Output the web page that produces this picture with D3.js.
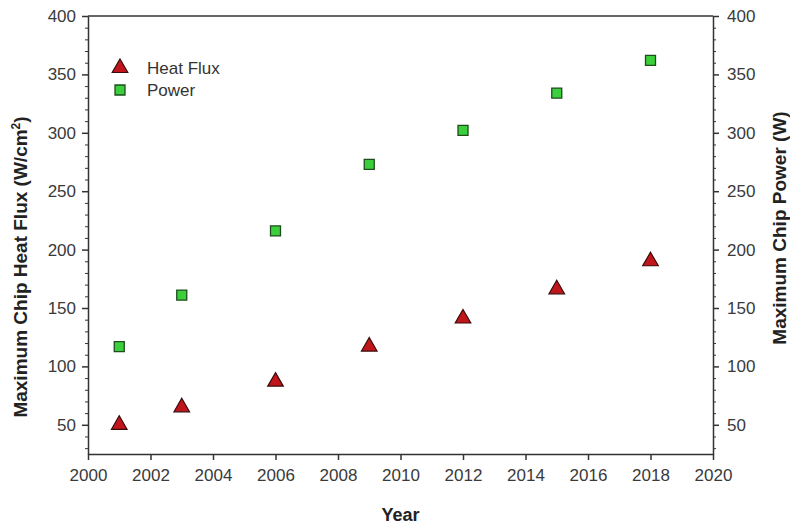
<!DOCTYPE html>
<html>
<head>
<meta charset="utf-8">
<script src="https://cdn.jsdelivr.net/npm/d3@7"></script>
<style>
  body { margin: 0; background: #fff; }
  svg { font-family: Arial, "Liberation Sans", sans-serif; }
  .axis path, .axis line { stroke: #333; }
  .axis text { fill: #3a3a3a; font-size: 17px; }
</style>
</head>
<body>
<div id="chart"></div>
<script>
// data
const years = [2001, 2003, 2006, 2009, 2012, 2015, 2018];
const heatFlux = [50, 65, 87, 117, 141, 166, 190];
const power = [117, 161, 216, 273, 302, 334, 362];
const xTicks = [2000, 2002, 2004, 2006, 2008, 2010, 2012, 2014, 2016, 2018, 2020];
const yTicks = [50, 100, 150, 200, 250, 300, 350, 400];

const width = 790, height = 526;
const margin = { top: 16, right: 77, bottom: 72, left: 88 };

const svg = d3.select("#chart").append("svg")
  .attr("width", width)
  .attr("height", height);

const x = d3.scaleLinear().domain([2000, 2020]).range([margin.left, width - margin.right]);
const y = d3.scaleLinear().domain([25, 400]).range([height - margin.bottom, margin.top]);

const minorTicks = d3.range(30, 400, 10).filter(v => v % 50 !== 0);

// frame (top line)
svg.append("line")
  .attr("x1", x(2000)).attr("x2", x(2020))
  .attr("y1", y(400)).attr("y2", y(400))
  .attr("stroke", "#333").attr("stroke-width", 1.5);

// bottom axis
svg.append("g")
  .attr("class", "axis")
  .attr("transform", `translate(0,${y(25)})`)
  .call(d3.axisBottom(x).tickValues(xTicks).tickFormat(d3.format("d")).tickSize(6).tickSizeOuter(0).tickPadding(9))
  .call(g => g.selectAll("path, line").attr("stroke-width", 1.5));

// left axis
svg.append("g")
  .attr("class", "axis")
  .attr("transform", `translate(${x(2000)},0)`)
  .call(d3.axisLeft(y).tickValues(yTicks).tickSize(6).tickSizeOuter(0).tickPadding(6))
  .call(g => g.selectAll("path, line").attr("stroke-width", 1.5));
svg.append("g")
  .attr("class", "axis")
  .attr("transform", `translate(${x(2000)},0)`)
  .call(d3.axisLeft(y).tickValues(minorTicks).tickSize(3).tickFormat(""))
  .call(g => g.select(".domain").remove());

// right axis
svg.append("g")
  .attr("class", "axis")
  .attr("transform", `translate(${x(2020)},0)`)
  .call(d3.axisRight(y).tickValues(yTicks).tickSize(6).tickSizeOuter(0).tickPadding(8))
  .call(g => g.selectAll("path, line").attr("stroke-width", 1.5));
svg.append("g")
  .attr("class", "axis")
  .attr("transform", `translate(${x(2020)},0)`)
  .call(d3.axisRight(y).tickValues(minorTicks).tickSize(3).tickFormat(""))
  .call(g => g.select(".domain").remove());

// axis titles
svg.append("text")
  .attr("x", (x(2000) + x(2020)) / 2)
  .attr("y", 521)
  .attr("text-anchor", "middle")
  .attr("font-weight", "bold")
  .attr("font-size", 18)
  .attr("fill", "#222")
  .text("Year");

const leftTitle = svg.append("text")
  .attr("transform", "translate(27,267) rotate(-90)")
  .attr("text-anchor", "middle")
  .attr("font-weight", "bold")
  .attr("font-size", 19)
  .attr("fill", "#222");
leftTitle.append("tspan").text("Maximum Chip Heat Flux (W/cm");
leftTitle.append("tspan").attr("baseline-shift", "super").attr("font-size", 12).text("2");
leftTitle.append("tspan").text(")");

svg.append("text")
  .attr("transform", "translate(786,228) rotate(-90)")
  .attr("text-anchor", "middle")
  .attr("font-weight", "bold")
  .attr("font-size", 19)
  .attr("fill", "#222")
  .text("Maximum Chip Power (W)");

// markers
const tri = d3.symbol().type(d3.symbolTriangle).size(105);
const sq = d3.symbol().type(d3.symbolSquare).size(100);

svg.append("g").selectAll("path")
  .data(years.map((yr, i) => [yr, power[i]]))
  .enter().append("path")
  .attr("d", sq)
  .attr("transform", d => `translate(${x(d[0])},${y(d[1])})`)
  .attr("fill", "#3ccf3c")
  .attr("stroke", "#1d4d1d")
  .attr("stroke-width", 1.3);

svg.append("g").selectAll("path")
  .data(years.map((yr, i) => [yr, heatFlux[i]]))
  .enter().append("path")
  .attr("d", tri)
  .attr("transform", d => `translate(${x(d[0])},${y(d[1])})`)
  .attr("fill", "#c0161b")
  .attr("stroke", "#3a0a0a")
  .attr("stroke-width", 1.2);

// legend
const legend = svg.append("g").attr("transform", "translate(120,68)");
legend.append("path").attr("d", tri)
  .attr("fill", "#c0161b").attr("stroke", "#3a0a0a").attr("stroke-width", 1.2);
legend.append("text").attr("x", 27).attr("y", 6)
  .attr("font-size", 17).attr("fill", "#333").text("Heat Flux");
legend.append("path").attr("d", sq).attr("transform", "translate(0,22)")
  .attr("fill", "#3ccf3c").attr("stroke", "#1d4d1d").attr("stroke-width", 1.3);
legend.append("text").attr("x", 27).attr("y", 28)
  .attr("font-size", 17).attr("fill", "#333").text("Power");
</script>
</body>
</html>
